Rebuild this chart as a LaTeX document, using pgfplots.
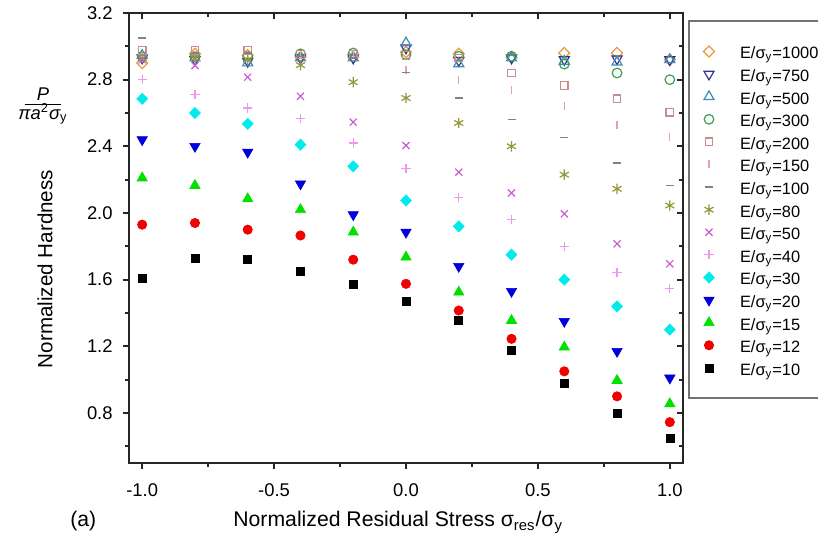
\documentclass[border=0pt]{standalone}
\usepackage{fontspec}
\setmainfont{Liberation Sans}
\usepackage{pgfplots}
\pgfplotsset{compat=1.18}
\definecolor{cA}{RGB}{240,150,60}
\definecolor{cB}{RGB}{50,50,150}
\definecolor{cC}{RGB}{60,140,180}
\definecolor{cD}{RGB}{60,160,80}
\definecolor{cE}{RGB}{200,140,140}
\definecolor{cF}{RGB}{230,160,180}
\definecolor{cG}{RGB}{130,130,130}
\definecolor{cH}{RGB}{150,150,60}
\definecolor{cI}{RGB}{200,90,210}
\definecolor{cJ}{RGB}{240,150,240}
\definecolor{cK}{RGB}{0,235,235}
\definecolor{cL}{RGB}{0,0,220}
\definecolor{cM}{RGB}{0,225,0}
\definecolor{cN}{RGB}{240,0,0}
\definecolor{cO}{RGB}{0,0,0}
\pgfplotsset{
  sc/.style={only marks, legend image code/.code={\path (0pt,0pt) (18.5pt,0pt); \draw[##1] plot coordinates {(3.5pt,0pt)};}},
  frame/.style={scale only axis, width=277pt, height=225pt,
    xmin=-1.05, xmax=1.05, ymin=0.5, ymax=3.2,
    xtick={-1,-0.5,0,0.5,1}, minor xtick={-0.75,-0.25,0.25,0.75},
    ytick={0.8,1.2,1.6,2.0,2.4,2.8,3.2}, minor ytick={0.6,1.0,1.4,1.8,2.2,2.6,3.0},
    major tick length=3.2pt, minor tick length=2pt,
    every tick/.style={line width=0.9pt, color=black!85},
    axis line style={line width=1pt, color=black!85}},
}
\begin{document}
\begin{tikzpicture}
\begin{axis}[frame, name=ax,
  tick align=outside, xtick pos=left, ytick pos=left,
  xticklabels={-1.0,-0.5,0.0,0.5,1.0},
  yticklabels={0.8,1.2,1.6,2.0,2.4,2.8,3.2},
  xticklabel style={font=\fontsize{9.2}{10}\selectfont, inner sep=0pt, yshift=-7pt},
  yticklabel style={font=\fontsize{9.2}{10}\selectfont, inner sep=0pt, xshift=-4.8pt},
  legend style={at={(1,1)}, anchor=north west, xshift=2.5pt, yshift=-3.5pt,
    draw=black!55, line width=1pt, inner xsep=6pt, inner ysep=9.6pt,
    row sep=0pt, column sep=0pt, font=\fontsize{8.2}{9}\selectfont,
    nodes={inner sep=0pt, text height=9.4pt, text depth=1.9pt}},
  legend cell align=left,
]
\addplot[sc, color=cA, mark=diamond, mark size=2.8pt, mark options={xscale=1.3, line width=0.6pt}] coordinates {
(-1,2.90) (-0.8,2.955) (-0.6,2.947) (-0.4,2.935) (-0.2,2.935) (0,2.965) (0.2,2.955) (0.4,2.935) (0.6,2.96) (0.8,2.96) (1,2.92)};
\addlegendentry{E/σ\textsubscript{y}=1000}
\addplot[sc, color=cB, mark=triangle, mark size=2.9pt, mark options={rotate=180, line width=0.6pt}] coordinates {
(-1,2.93) (-0.8,2.92) (-0.6,2.91) (-0.4,2.93) (-0.2,2.93) (0,2.99) (0.2,2.915) (0.4,2.93) (0.6,2.92) (0.8,2.925) (1,2.92)};
\addlegendentry{E/σ\textsubscript{y}=750}
\addplot[sc, color=cC, mark=triangle, mark size=2.9pt, mark options={line width=0.6pt}] coordinates {
(-1,2.945) (-0.8,2.93) (-0.6,2.90) (-0.4,2.93) (-0.2,2.93) (0,3.02) (0.2,2.895) (0.4,2.93) (0.6,2.91) (0.8,2.905) (1,2.92)};
\addlegendentry{E/σ\textsubscript{y}=500}
\addplot[sc, color=cD, mark=o, mark size=2.4pt, mark options={line width=0.6pt}] coordinates {
(-1,2.94) (-0.8,2.94) (-0.6,2.94) (-0.4,2.955) (-0.2,2.96) (0,2.95) (0.2,2.94) (0.4,2.94) (0.6,2.893) (0.8,2.84) (1,2.80)};
\addlegendentry{E/σ\textsubscript{y}=300}
\addplot[sc, color=cE, mark=square, mark size=1.9pt, mark options={line width=0.6pt}] coordinates {
(-1,2.975) (-0.8,2.975) (-0.6,2.975) (-0.4,2.95) (-0.2,2.95) (0,2.945) (0.2,2.93) (0.4,2.84) (0.6,2.765) (0.8,2.685) (1,2.605)};
\addlegendentry{E/σ\textsubscript{y}=200}
\addplot[sc, color=cF, mark=|, mark size=2pt, mark options={line width=0.6pt}] coordinates {
(-1,2.95) (-0.8,2.95) (-0.6,2.95) (-0.4,2.95) (-0.2,2.95) (0,2.86) (0.2,2.795) (0.4,2.74) (0.6,2.64) (0.8,2.525) (1,2.455)};
\addlegendentry{E/σ\textsubscript{y}=150}
\addplot[sc, color=cG, mark=-, mark size=2pt, mark options={line width=0.6pt}] coordinates {
(-1,3.05) (-0.8,2.96) (-0.6,2.96) (-0.4,2.94) (-0.2,2.93) (0,2.845) (0.2,2.69) (0.4,2.56) (0.6,2.455) (0.8,2.30) (1,2.165)};
\addlegendentry{E/σ\textsubscript{y}=100}
\addplot[sc, color=cH, mark=asterisk, mark size=2.6pt, mark options={line width=0.6pt}] coordinates {
(-1,2.93) (-0.8,2.93) (-0.6,2.92) (-0.4,2.887) (-0.2,2.785) (0,2.69) (0.2,2.54) (0.4,2.40) (0.6,2.23) (0.8,2.145) (1,2.045)};
\addlegendentry{E/σ\textsubscript{y}=80}
\addplot[sc, color=cI, mark=x, mark size=2.5pt, mark options={line width=0.6pt}] coordinates {
(-1,2.92) (-0.8,2.885) (-0.6,2.815) (-0.4,2.70) (-0.2,2.545) (0,2.405) (0.2,2.245) (0.4,2.12) (0.6,1.995) (0.8,1.815) (1,1.695)};
\addlegendentry{E/σ\textsubscript{y}=50}
\addplot[sc, color=cJ, mark=+, mark size=2.3pt, mark options={line width=0.6pt}] coordinates {
(-1,2.80) (-0.8,2.71) (-0.6,2.63) (-0.4,2.565) (-0.2,2.42) (0,2.265) (0.2,2.095) (0.4,1.96) (0.6,1.80) (0.8,1.645) (1,1.545)};
\addlegendentry{E/σ\textsubscript{y}=40}
\addplot[sc, color=cK, mark=diamond*, mark size=2.8pt, mark options={xscale=1.3, line width=0.3pt}] coordinates {
(-1,2.685) (-0.8,2.60) (-0.6,2.535) (-0.4,2.41) (-0.2,2.28) (0,2.075) (0.2,1.92) (0.4,1.75) (0.6,1.60) (0.8,1.44) (1,1.30)};
\addlegendentry{E/σ\textsubscript{y}=30}
\addplot[sc, color=cL, mark=triangle*, mark size=3pt, mark options={rotate=180, line width=0.3pt}] coordinates {
(-1,2.44) (-0.8,2.40) (-0.6,2.365) (-0.4,2.175) (-0.2,1.99) (0,1.885) (0.2,1.68) (0.4,1.53) (0.6,1.35) (0.8,1.17) (1,1.01)};
\addlegendentry{E/σ\textsubscript{y}=20}
\addplot[sc, color=cM, mark=triangle*, mark size=3pt, mark options={line width=0.3pt}] coordinates {
(-1,2.21) (-0.8,2.165) (-0.6,2.085) (-0.4,2.02) (-0.2,1.885) (0,1.735) (0.2,1.525) (0.4,1.355) (0.6,1.195) (0.8,0.995) (1,0.855)};
\addlegendentry{E/σ\textsubscript{y}=15}
\addplot[sc, color=cN, mark=*, mark size=2.35pt, mark options={line width=0.3pt}] coordinates {
(-1,1.93) (-0.8,1.94) (-0.6,1.90) (-0.4,1.865) (-0.2,1.72) (0,1.575) (0.2,1.415) (0.4,1.245) (0.6,1.05) (0.8,0.90) (1,0.745)};
\addlegendentry{E/σ\textsubscript{y}=12}
\addplot[sc, color=cO, mark=square*, mark size=2pt, mark options={line width=0.3pt}] coordinates {
(-1,1.61) (-0.8,1.73) (-0.6,1.72) (-0.4,1.65) (-0.2,1.575) (0,1.47) (0.2,1.355) (0.4,1.175) (0.6,0.98) (0.8,0.80) (1,0.65)};
\addlegendentry{E/σ\textsubscript{y}=10}
\end{axis}
\begin{axis}[frame, tick align=inside, xtick pos=right, ytick pos=right,
  xticklabels={}, yticklabels={}]
\end{axis}
\node[anchor=base west, inner sep=0pt, font=\fontsize{10.6}{12}\selectfont] at ([xshift=52pt,yshift=-32pt]ax.south west)
  {Normalized Residual Stress σ\textsubscript{res}/σ\textsubscript{y}};
\node[anchor=base west, inner sep=0pt, font=\fontsize{10.6}{12}\selectfont] at ([xshift=-29.5pt,yshift=-32pt]ax.south west) {(a)};
\node[rotate=90, inner sep=0pt, font=\fontsize{10.3}{12}\selectfont] at ([xshift=-42pt,yshift=97pt]ax.south west) {Normalized Hardness};
\coordinate (fr) at ([xshift=-43pt,yshift=-46pt]ax.north west);
\draw[line width=0.5pt] ([xshift=-9pt]fr) -- ([xshift=9pt]fr);
\node[anchor=base, inner sep=0pt, font=\fontsize{9.2}{10}\selectfont\itshape] at ([yshift=2.2pt]fr) {P};
\node[anchor=base, inner sep=0pt, font=\fontsize{9.2}{10}\selectfont\itshape] at ([yshift=-7.5pt]fr) {πa\textsuperscript{\upshape 2}σ\textsubscript{\upshape y}};
\pgfresetboundingbox
\path[use as bounding box] ([xshift=-64.5pt,yshift=-41pt]ax.south west) rectangle ([xshift=67.5pt,yshift=6.5pt]ax.north east);
\end{tikzpicture}
\end{document}
